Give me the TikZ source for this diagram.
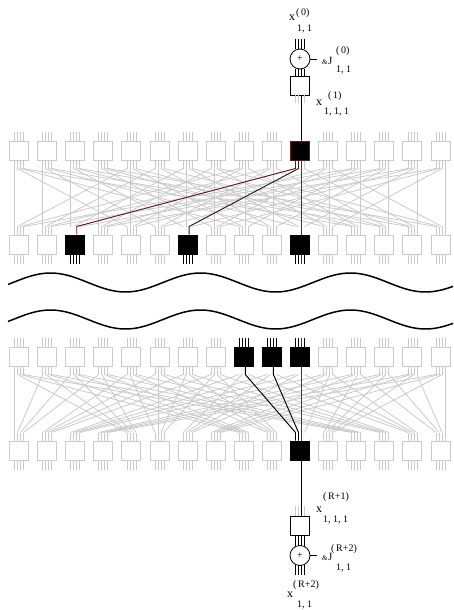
\documentclass[tikz,border=0pt]{standalone}
\usepackage{fontspec}
\setmainfont{Liberation Serif}
\usetikzlibrary{calc}

\definecolor{lgray}{RGB}{202,202,202}
\definecolor{hotred}{RGB}{105,20,25}
\definecolor{hotbrown}{RGB}{55,20,20}
\definecolor{hotpurple}{RGB}{130,10,115}

\tikzset{
  cell/.style={draw=lgray, line width=1pt, fill=white, minimum size=19pt, inner sep=0pt},
  hotcell/.style={cell, draw=black, fill=black},
  sqcell/.style={draw=black, line width=0.8pt, fill=white, minimum size=19pt, inner sep=0pt},
  sumcell/.style={draw=black, circle, line width=0.8pt, fill=white, minimum size=20pt, inner sep=0pt, font=\fontsize{10}{10}\selectfont},
  wire/.style={draw=lgray, line width=0.8pt},
  lead/.style={draw=black, line width=0.9pt},
  mainlbl/.style={inner sep=0pt, anchor=base west, font=\fontsize{12}{12}\selectfont},
  idxlbl/.style={inner sep=0pt, anchor=base west, font=\fontsize{10}{10}\selectfont},
  amplbl/.style={inner sep=0pt, anchor=base west, font=\fontsize{7}{7}\selectfont},
  wave/.style={line width=1.5pt},
}

\begin{document}
\begin{tikzpicture}[x=1pt, y=-1pt]
\useasboundingbox (0,0) rectangle (453,610);

% upper stage
\foreach \k in {0,...,9,11,12,13,14,15}
  \node[cell] (a\k) at (19+28.1*\k,150.5) {};
\node[hotcell, draw=hotred] (a10) at (19+28.1*10,150.5) {};
\foreach \k in {0,1,3,4,5,7,8,9,11,12,13,14,15}
  \node[cell] (b\k) at (19+28.1*\k,244.5) {};
\foreach \k in {2,6,10}
  \node[hotcell] (b\k) at (19+28.1*\k,244.5) {};

% lower stage
\foreach \k in {0,...,7,11,12,13,14,15}
  \node[cell] (c\k) at (19+28.1*\k,356.5) {};
\foreach \k in {8,9,10}
  \node[hotcell] (c\k) at (19+28.1*\k,356.5) {};
\foreach \k in {0,...,9,11,12,13,14,15}
  \node[cell] (d\k) at (19+28.1*\k,450.5) {};
\node[hotcell] (d10) at (19+28.1*10,450.5) {};

% pins
\foreach \k in {0,...,15}
  \foreach \m in {0,...,3} {
    \pgfmathtruncatemacro{\hotb}{(\k==2)||(\k==6)||(\k==10)}
    \pgfmathtruncatemacro{\hotc}{(\k==8)||(\k==9)||(\k==10)}
    \ifnum\k=10\else
      \draw[wire] ($(a\k.north)+(\m*3-4.5,0)$) -- ++(0,-9);
      \draw[wire] ($(d\k.south)+(\m*3-4.5,0)$) -- ++(0,9);
      \draw[wire] ($(d\k.north)+(\m*3-4.5,0)$) -- ++(0,-8);
    \fi
    \draw[wire] ($(a\k.south)+(\m*3-4.5,0)$) -- ++(0,8);
    \ifnum\hotb=0
      \draw[wire] ($(b\k.north)+(\m*3-4.5,0)$) -- ++(0,-8);
      \draw[wire] ($(b\k.south)+(\m*3-4.5,0)$) -- ++(0,9);
    \fi
    \ifnum\hotc=0
      \draw[wire] ($(c\k.north)+(\m*3-4.5,0)$) -- ++(0,-9);
      \draw[wire] ($(c\k.south)+(\m*3-4.5,0)$) -- ++(0,8);
    \fi
  }

% wiring, upper: stride 4
\foreach \i in {0,...,15}
  \foreach \m in {0,...,3} {
    \pgfmathtruncatemacro{\j}{mod(\i,4)+4*\m}
    \pgfmathtruncatemacro{\p}{int(\i/4)}
    \draw[wire] ($(a\i.south)+(\m*3-4.5,8)$) -- ($(b\j.north)+(\p*3-4.5,-8)$);
  }
% wiring, lower: transposed
\foreach \i in {0,...,15}
  \foreach \m in {0,...,3} {
    \pgfmathtruncatemacro{\j}{int(\i/4)+4*\m}
    \pgfmathtruncatemacro{\p}{mod(\i,4)}
    \draw[wire] ($(c\i.south)+(\m*3-4.5,8)$) -- ($(d\j.north)+(\p*3-4.5,-8)$);
  }

% highlighted paths
\draw[lead, hotred] ($(a10.south)+(-4.5,0)$) -- ++(0,8) -- ($(b2.north)+(1.5,-8)$) -- ++(0,8);
\draw[lead, hotbrown] ($(a10.south)+(-1.5,0)$) -- ++(0,8) -- ($(b6.north)+(1.5,-8)$) -- ++(0,8);
\draw[lead, hotpurple] ($(a10.south)+(1.5,0)$) -- ($(b10.north)+(1.5,0)$);
\foreach \k in {2,6,10}
  \foreach \m in {0,...,3}
    \draw[lead] ($(b\k.south)+(\m*3-4.5,0)$) -- ++(0,9);
\foreach \k in {8,9,10}
  \foreach \m in {0,...,3}
    \draw[lead] ($(c\k.north)+(\m*3-4.5,0)$) -- ++(0,-9);
\draw[lead, hotpurple] ($(b10.south)+(1.5,0)$) -- ++(0,9);
\draw[lead, hotpurple] ($(c10.north)+(1.5,0)$) -- ++(0,-9);
\draw[lead] ($(c8.south)+(1.5,0)$) -- ++(0,8) -- ($(d10.north)+(-4.5,-8)$) -- ++(0,8);
\draw[lead] ($(c9.south)+(1.5,0)$) -- ++(0,8) -- ($(d10.north)+(-1.5,-8)$) -- ++(0,8);
\draw[lead, hotpurple] ($(c10.south)+(1.5,0)$) -- ($(d10.north)+(1.5,0)$);

% break marks
\draw[wave] plot[domain=8:453, samples=120] (\x, {282.5-9.5*sin((\x-13)*2.4)});
\draw[wave] plot[domain=8:453, samples=120] (\x, {319.5-9.5*sin((\x-13)*2.4)});

% input end
\node[sumcell] (topsum) at (300,59) {+};
\node[sqcell] (topsq) at (300,85.5) {};
\foreach \m in {0,...,3} {
  \draw[lead] ($(topsum.north)+(\m*3-4.5,-10)$) -- ($(topsum.north)+(\m*3-4.5,0.5)$);
  \draw[lead] ($(topsum.south)+(\m*3-4.5,-0.5)$) -- ($(topsq.north)+(\m*3-4.5,0)$);
}
\foreach \m in {0,1,3}
  \draw[wire] ($(topsq.south)+(\m*3-4.5,0)$) -- ++(0,8);
\draw[lead] ($(topsq.south)+(1.5,0)$) -- ($(a10.north)+(1.5,0)$);
\draw[lead] (topsum.east) -- ++(7,0);

\node[mainlbl] (x0) at (289,21) {x};
\node[idxlbl] (x0sup) at (296,16) {(\,0)};
\node[idxlbl] (x0sub) at (297,32) {1, 1};
\node[amplbl] (j0) at (322,64) {\&};
\node[idxlbl, font=\fontsize{11}{11}\selectfont] (j0J) at (j0.base east) {J};
\node[idxlbl] (j0sup) at (336,53) {(\,0)};
\node[idxlbl] (j0sub) at (336,72) {1, 1};
\node[mainlbl] (x1) at (316,105) {x};
\node[idxlbl] (x1sup) at (328,98) {(\,1)};
\node[idxlbl] (x1sub) at (324,114) {1, 1, 1};

% output end
\node[sqcell] (botsq) at (300,526) {};
\node[sumcell] (botsum) at (300,555.5) {+};
\foreach \m in {0,1,3}
  \draw[wire] ($(botsq.north)+(\m*3-4.5,0)$) -- ++(0,-10);
\draw[lead] ($(d10.south)+(1.5,0)$) -- ($(botsq.north)+(1.5,0)$);
\foreach \m in {0,...,3} {
  \draw[lead] ($(botsq.south)+(\m*3-4.5,0)$) -- ($(botsum.north)+(\m*3-4.5,0.5)$);
  \draw[lead] ($(botsum.south)+(\m*3-4.5,-0.5)$) -- ($(botsum.south)+(\m*3-4.5,9)$);
}
\draw[lead] (botsum.east) -- ++(7,0);

\node[mainlbl] (xr1) at (316,512) {x};
\node[idxlbl] (xr1sup) at (323,499) {(\,R+1)};
\node[idxlbl] (xr1sub) at (323,522) {1, 1, 1};
\node[amplbl] (jr) at (322,560) {\&};
\node[idxlbl, font=\fontsize{11}{11}\selectfont] (jrJ) at (jr.base east) {J};
\node[idxlbl] (jrsup) at (331,551) {(\,R+2)};
\node[idxlbl] (jrsub) at (336,570) {1, 1};
\node[idxlbl] (xr2sup) at (293,587) {(\,R+2)};
\node[mainlbl] (xr2) at (287,597) {x};
\node[idxlbl] (xr2sub) at (297,607) {1, 1};

\end{tikzpicture}
\end{document}
